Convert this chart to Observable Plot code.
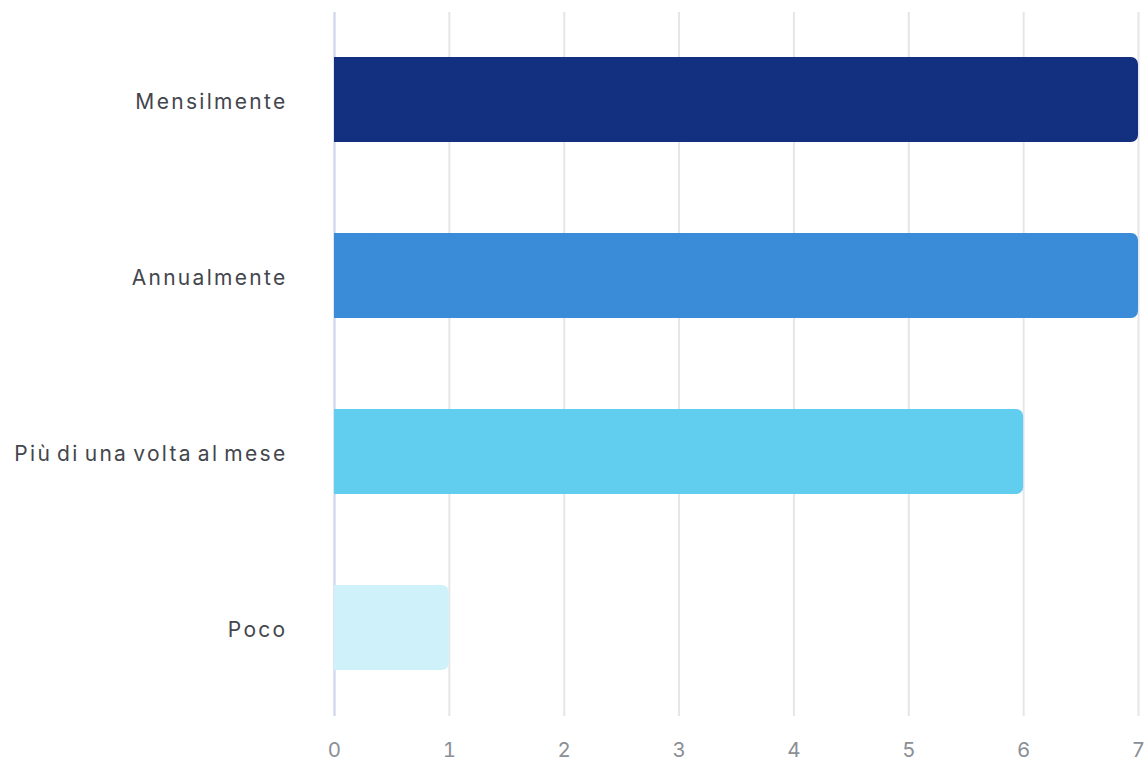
<!DOCTYPE html>
<html>
<head>
<meta charset="utf-8">
<script src="https://cdn.jsdelivr.net/npm/d3@7"></script>
<script src="https://cdn.jsdelivr.net/npm/@observablehq/plot@0.6"></script>
<style>
  html, body { margin: 0; padding: 0; background: #fff; }
  #chart svg { display: block; }
  #chart g[aria-label="y-axis tick label"] { letter-spacing: 2.3px; word-spacing: -3.2px; }
</style>
</head>
<body>
<div id="chart"></div>
<script>
const categories = ["Mensilmente", "Annualmente", "Più di una volta al mese", "Poco"];
const values = [7, 7, 6, 1];
const colors = ["#132f80", "#3a8bd8", "#61cef0", "#cff2fa"];
const xTicks = [0, 1, 2, 3, 4, 5, 6, 7];

const data = categories.map((c, i) => ({ category: c, value: values[i], color: colors[i] }));

const chart = Plot.plot({
  width: 1148,
  height: 760,
  marginLeft: 334,
  marginRight: 10,
  marginTop: 12,
  marginBottom: 44,
  style: { fontFamily: "Inter, 'Noto Sans', sans-serif", background: "#fff" },
  x: { domain: [0, 7], ticks: xTicks, label: null },
  y: { domain: categories, paddingInner: 0.517, paddingOuter: 0.2585, label: null },
  marks: [
    Plot.gridX(xTicks, { stroke: "#e6e6e8", strokeOpacity: 1, strokeWidth: 2 }),
    Plot.ruleX([0], { stroke: "#cfd8ee", strokeWidth: 2 }),
    Plot.barX(data, { y: "category", x: "value", fill: "color", rx: 7 }),
    Plot.barX(data, { y: "category", x1: 0, x2: d => Math.min(d.value, 0.3), fill: "color" }),
    Plot.axisX(xTicks, { tickSize: 0, tickPadding: 26, fontSize: 20.5, fill: "#8b8f96", label: null, tickFormat: d => String(d) }),
    Plot.axisY({ tickSize: 0, tickPadding: 47, fontSize: 21, fill: "#43464d", label: null, dy: 2 })
  ]
});
document.getElementById("chart").appendChild(chart);
</script>
</body>
</html>
